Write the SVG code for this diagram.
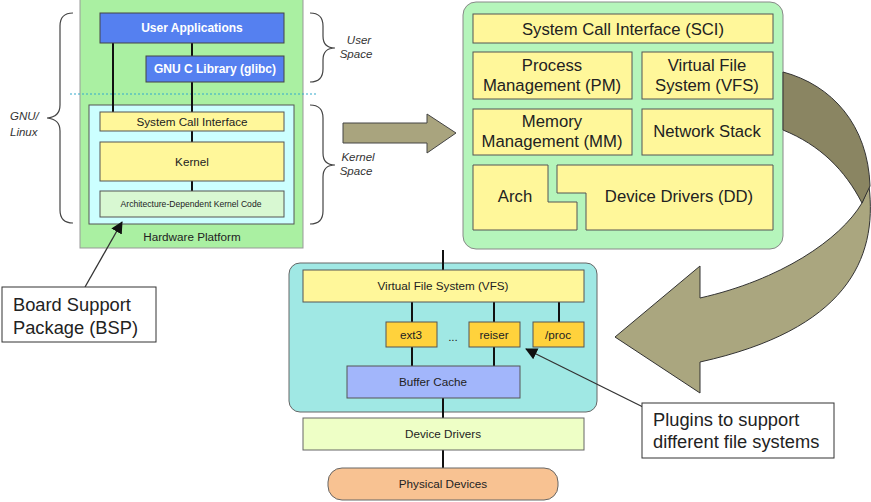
<svg xmlns="http://www.w3.org/2000/svg" width="871" height="502" viewBox="0 0 871 502">
<defs>
<style>
text{font-family:"Liberation Sans",Arial,sans-serif;fill:#222;text-anchor:middle}
.y{fill:#fff79a;stroke:#555;stroke-width:1}
.blue{fill:#5580f0;stroke:#444;stroke-width:1}
.wt{fill:#fff;font-weight:bold;font-size:12px}
.ln{stroke:#111;stroke-width:2;fill:none}
.br{stroke:#444;stroke-width:1.2;fill:none}
.it{font-style:italic;font-size:11.5px;fill:#333}
.big{font-size:16.7px}
.sm{font-size:11.7px}
.gold{fill:#ffd23c;stroke:#555;stroke-width:1}
.call{fill:#fff;stroke:#333;stroke-width:1}
.ct{font-size:18.3px;text-anchor:start;fill:#222}
</style>
<marker id="ah" markerWidth="12" markerHeight="12" refX="11" refY="6" orient="auto" markerUnits="userSpaceOnUse" viewBox="0 0 12 12">
<path d="M0,0 L12,6 L0,12 Z" fill="#111"/>
</marker>
</defs>

<g id="left-stack">
<rect x="80" y="-2" width="223" height="250" fill="#aaf0a2" stroke="#999"/>
<rect x="89" y="105" width="205" height="119" fill="#ccffff" stroke="#555"/>
<line x1="70" y1="94" x2="318" y2="94" stroke="#33aacc" stroke-width="1.2" stroke-dasharray="2,2"/>
<g class="connectors-left">
<line class="ln" x1="113" y1="43" x2="113" y2="112"/>
<line class="ln" x1="192" y1="43" x2="192" y2="56"/>
<line class="ln" x1="192" y1="82" x2="192" y2="112"/>
<line class="ln" x1="192" y1="131" x2="192" y2="142"/>
<line class="ln" x1="192" y1="181" x2="192" y2="191"/>
</g>
<g id="user-apps"><rect class="blue" x="100" y="13" width="184" height="30"/><text class="wt" x="192" y="32">User Applications</text></g>
<g id="glibc"><rect class="blue" x="146" y="56" width="138" height="26"/><text class="wt" x="215" y="73">GNU C Library (glibc)</text></g>
<g id="sci-left"><rect class="y" x="100" y="112" width="184" height="19"/><text class="sm" x="192" y="125.5">System Call Interface</text></g>
<g id="kernel"><rect class="y" x="100" y="142" width="184" height="39"/><text class="sm" x="192" y="165.5">Kernel</text></g>
<g id="arch-code"><rect x="100" y="191" width="184" height="26" fill="#d8f8d2" stroke="#555"/><text x="191" y="207" font-size="8.6">Architecture-Dependent Kernel Code</text></g>
<text class="sm" x="192" y="241">Hardware Platform</text>
<path class="br" d="M73,13 Q60,13 60,26 L60,105 Q60,117 47,118 Q60,119 60,131 L60,210 Q60,223 73,223"/>
<path class="br" d="M310,13 Q323,13 323,26 L323,36 Q323,48 335,48 Q323,48 323,60 L323,69 Q323,82 310,82"/>
<path class="br" d="M310,105 Q323,105 323,118 L323,153 Q323,165 335,165 Q323,165 323,177 L323,211 Q323,224 310,224"/>
<text class="it" x="10" y="120" style="text-anchor:start">GNU/</text>
<text class="it" x="10" y="136" style="text-anchor:start">Linux</text>
<text class="it" x="359" y="44">User</text>
<text class="it" x="356" y="58">Space</text>
<text class="it" x="358" y="161">Kernel</text>
<text class="it" x="356" y="175">Space</text>
</g>

<g id="right-kernel">
<rect x="463" y="2" width="320" height="247" rx="13" fill="#b5f5bb" stroke="#888"/>
<g id="sci"><rect class="y" x="473" y="14" width="300" height="29"/><text class="big" x="623" y="34.5">System Call Interface (SCI)</text></g>
<g id="pm"><rect class="y" x="473" y="52" width="159" height="47"/><text class="big" x="552" y="71">Process</text><text class="big" x="552" y="91">Management (PM)</text></g>
<g id="vfs"><rect class="y" x="642" y="52" width="131" height="47"/><text class="big" x="707" y="71">Virtual File</text><text class="big" x="707" y="91">System (VFS)</text></g>
<g id="mm"><rect class="y" x="473" y="109" width="159" height="46"/><text class="big" x="552" y="127">Memory</text><text class="big" x="552" y="147">Management (MM)</text></g>
<g id="ns"><rect class="y" x="642" y="109" width="131" height="46"/><text class="big" x="707" y="137">Network Stack</text></g>
<g id="arch"><path class="y" d="M473,165 L548,165 L548,202 L577,202 L577,230 L473,230 Z"/><text class="big" x="515" y="202">Arch</text></g>
<g id="dd"><path class="y" d="M557,165 L773,165 L773,230 L586,230 L586,193 L557,193 Z"/><text class="big" x="679" y="202">Device Drivers (DD)</text></g>
</g>

<g id="fs-stack">
<rect x="289" y="263" width="308" height="149" rx="11" fill="#a0e8e4" stroke="#666"/>
<g class="connectors-fs">
<line class="ln" x1="443" y1="250" x2="443" y2="270"/>
<line class="ln" x1="412" y1="302" x2="412" y2="322"/>
<line class="ln" x1="494" y1="302" x2="494" y2="322"/>
<line class="ln" x1="559" y1="302" x2="559" y2="322"/>
<line class="ln" x1="412" y1="347" x2="412" y2="366"/>
<line class="ln" x1="494" y1="347" x2="494" y2="366"/>
<line class="ln" x1="443" y1="398" x2="443" y2="418"/>
<line class="ln" x1="443" y1="450" x2="443" y2="468"/>
</g>
<g id="vfs-bottom"><rect class="y" x="303" y="270" width="281" height="32"/><text class="sm" x="443" y="290">Virtual File System (VFS)</text></g>
<g id="ext3"><rect class="gold" x="386" y="322" width="51" height="25"/><text class="sm" x="411" y="338.5">ext3</text></g>
<text class="sm" x="453" y="341">...</text>
<g id="reiser"><rect class="gold" x="469" y="322" width="51" height="25"/><text class="sm" x="494" y="338.5">reiser</text></g>
<g id="proc"><rect class="gold" x="533" y="322" width="51" height="25"/><text class="sm" x="558" y="338.5">/proc</text></g>
<g id="buffer-cache"><rect x="347" y="366" width="173" height="32" fill="#a2b6fb" stroke="#555"/><text class="sm" x="433" y="386">Buffer Cache</text></g>
<g id="device-drivers"><rect x="303" y="418" width="281" height="32" fill="#eeffc6" stroke="#666"/><text class="sm" x="443" y="438">Device Drivers</text></g>
<g id="physical"><rect x="328" y="468" width="230" height="32" rx="14" fill="#f8c292" stroke="#666"/><text class="sm" x="443" y="488">Physical Devices</text></g>
</g>

<g id="connectors">
<path d="M343,123 L427,123 L427,114 L456,133 L427,153 L427,143 L343,143 Z" fill="#a9a47e" stroke="#444" stroke-width="1"/>
<path d="M869,186 C878,260 845,330 700,362 L700,393 L615,337 L700,266 L700,298 C780,280 840,240 862,203 Z" fill="#aaa67f" stroke="#333" stroke-width="1"/>
<path d="M783,72 C832,85 868,125 870,186 L862,203 C845,170 820,145 783,130 Z" fill="#8a8562" stroke="#333" stroke-width="1"/>
<line x1="85" y1="287" x2="122" y2="222" stroke="#333" stroke-width="1.3" marker-end="url(#ah)"/>
<line x1="643" y1="407" x2="526" y2="349" stroke="#333" stroke-width="1.3" marker-end="url(#ah)"/>
</g>

<g id="bsp-callout"><rect class="call" x="2" y="287" width="154" height="55"/><text class="ct" x="13" y="311">Board Support</text><text class="ct" x="13" y="334">Package (BSP)</text></g>
<g id="plugins-callout"><rect class="call" x="642" y="403" width="192" height="55"/><text class="ct" x="653" y="426">Plugins to support</text><text class="ct" x="653" y="448">different file systems</text></g>
</svg>
